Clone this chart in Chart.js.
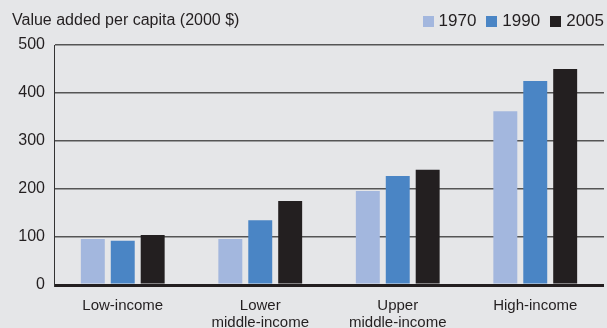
<!DOCTYPE html>
<html>
<head>
<meta charset="utf-8">
<script src="https://cdn.jsdelivr.net/npm/chart.js@4"></script>
<style>
  html, body { margin: 0; padding: 0; background: #e5e6e8; }
  #wrap { position: relative; width: 607px; height: 328px; overflow: hidden; }
  #title {
    position: absolute; left: 12px; top: 11px;
    font: 16px "Liberation Sans", Arial, sans-serif; color: #231f20;
  }
  #legend {
    position: absolute; right: 3px; top: 11px;
    display: flex; gap: 10px;
    font: 17px "Liberation Sans", Arial, sans-serif; color: #231f20;
  }
  #legend span.item { display: flex; align-items: center; }
  #legend i { display: inline-block; width: 11px; height: 11px; margin-right: 5px; }
</style>
</head>
<body>
<div id="wrap">
  <canvas id="chart" width="607" height="328"></canvas>
  <div id="title">Value added per capita (2000 $)</div>
  <div id="legend"></div>
</div>
<script>
// categories and series
const categories = [['Low-income'], ['Lower', 'middle-income'], ['Upper', 'middle-income'], ['High-income']];
const years      = ['1970', '1990', '2005'];
const v1970      = [96, 96, 196, 362];
const v1990      = [92, 135, 227, 425];
const v2005      = [104, 175, 240, 450];
const colors     = ['#a3b7de', '#4a85c5', '#231f20'];
const yTicks     = [0, 100, 200, 300, 400, 500];

const series = [v1970, v1990, v2005];

// html legend
const legendEl = document.getElementById('legend');
legendEl.innerHTML = years
  .map((y, i) => `<span class="item"><i style="background:${colors[i]}"></i>${y}</span>`)
  .join('');

const ctx = document.getElementById('chart').getContext('2d');
new Chart(ctx, {
  type: 'bar',
  data: {
    labels: categories,
    datasets: years.map((y, i) => ({
      label: y,
      data: series[i],
      backgroundColor: colors[i],
      borderWidth: 0,
      categoryPercentage: 0.653,
      barPercentage: 0.8
    }))
  },
  options: {
    responsive: false,
    animation: false,
    layout: { padding: { top: 45, right: 3, left: 0, bottom: 0 } },
    plugins: {
      legend: { display: false },
      tooltip: { enabled: false }
    },
    scales: {
      x: {
        grid: { display: false, drawTicks: false },
        border: { display: false },
        ticks: {
          color: '#231f20',
          padding: 12,
          maxRotation: 0,
          autoSkip: false,
          font: { family: '"Liberation Sans", Arial, sans-serif', size: 15, lineHeight: 1.15 }
        },
        afterFit: s => { s.height = 43; }
      },
      y: {
        min: 0,
        max: 500,
        afterBuildTicks: s => { s.ticks = yTicks.map(v => ({ value: v })); },
        grid: {
          drawTicks: false,
          color: c => c.tick && c.tick.value === 0 ? '#231f20' : '#555555',
          lineWidth: c => c.tick && c.tick.value === 0 ? 3 : 1.5
        },
        border: { display: true, color: '#333333', width: 1 },
        ticks: {
          color: '#231f20',
          padding: 9,
          font: { family: '"Liberation Sans", Arial, sans-serif', size: 16 }
        },
        afterFit: s => { s.width = 54; }
      }
    }
  }
});
</script>
</body>
</html>
